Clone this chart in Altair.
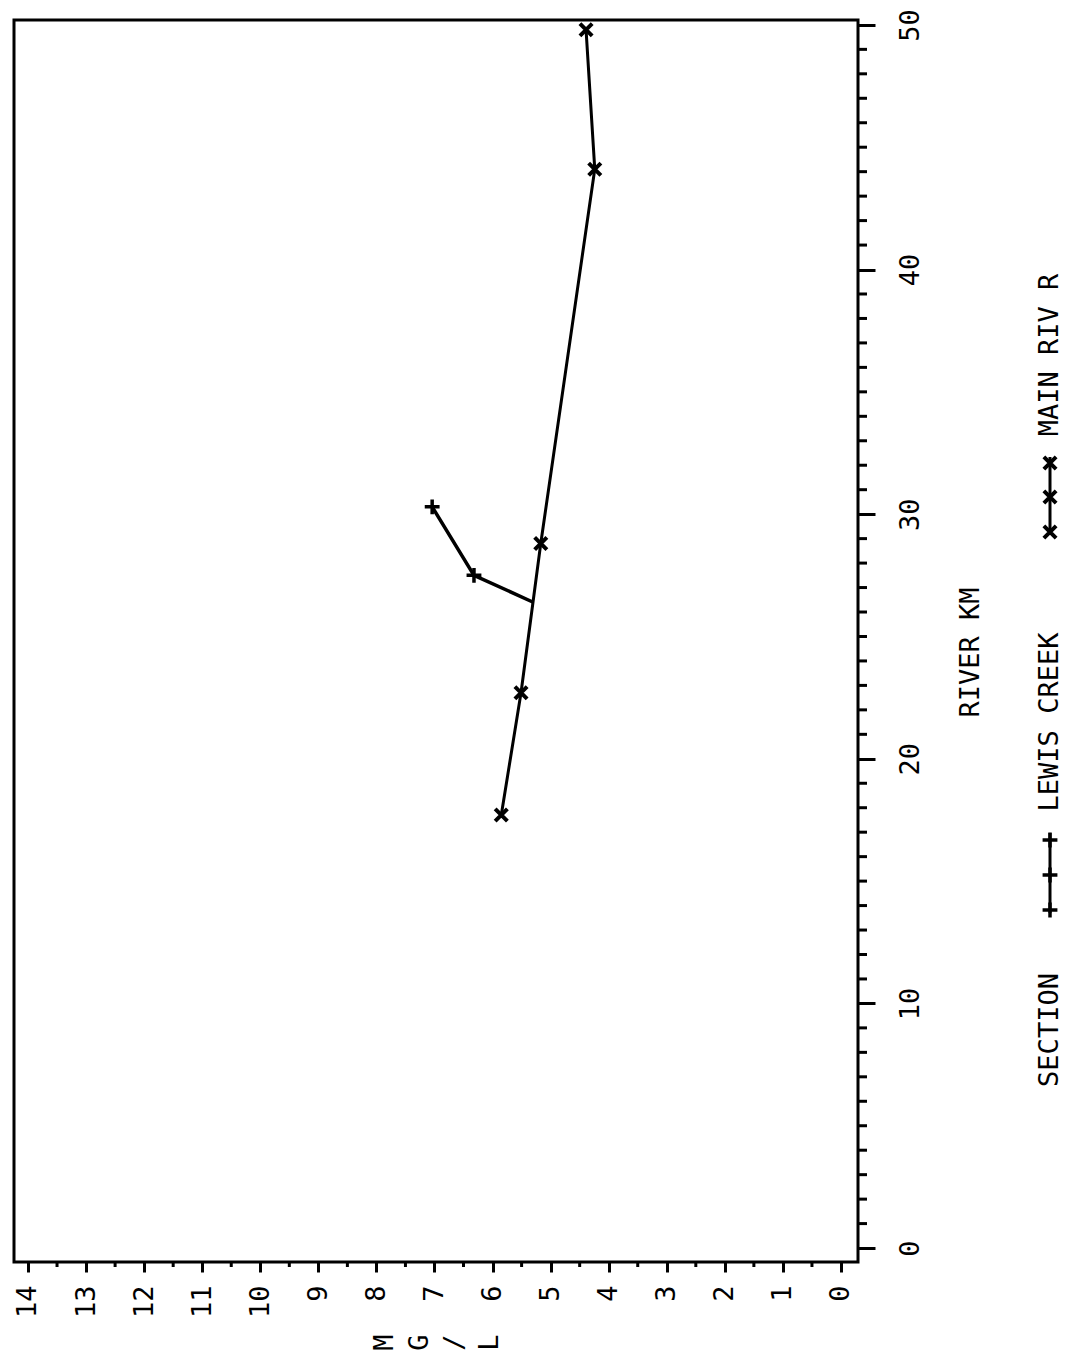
import altair as alt
import pandas as pd

FONT = "DejaVu Sans Mono"
INK = "black"

# Main river: river km and MG/L at each station
main_km = [17.7, 22.7, 28.8, 44.1, 49.8]
main_mgl = [5.85, 5.51, 5.17, 4.24, 4.39]

# Lewis Creek: the last point is the confluence with the main river (no station marker)
creek_km = [30.3, 27.5, 26.4]
creek_mgl = [7.04, 6.32, 5.30]
creek_station = [True, True, False]

# Axis ticks
mgl_ticks = list(range(0, 15))
mgl_minor = [v + 0.5 for v in range(0, 14)]
km_ticks = list(range(0, 51, 10))
km_minor = [v for v in range(0, 51) if v % 10]

legend_labels = ["SECTION", "LEWIS CREEK", "MAIN RIV R"]

# Layout (pixels)
LEFT, TOP, W, H = 14, 20, 844, 1242
PAGE_W, PAGE_H = 1082, 1368
FS = 27
LW = 3

X_PATH = "M-1,-1L1,1M1,-1L-1,1"
PLUS_PATH = "M-1,0L1,0M0,-1L0,1"

x_scale = alt.Scale(domain=[-0.293, 14.241], reverse=True, nice=False, zero=False)
y_scale = alt.Scale(domain=[-0.57, 50.2], nice=False, zero=False)

x_axis = alt.Axis(
    orient="bottom", values=mgl_ticks, domain=False, grid=False,
    tickSize=10, tickWidth=LW, tickColor=INK,
    labelAngle=270, labelAlign="right", labelBaseline="middle", labelPadding=13,
    labelFont=FONT, labelFontSize=FS, labelColor=INK,
    labelFlush=False, labelOverlap=False, labelBound=False,
    title=["M", "G", "/", "L"], titleAngle=270, titleAlign="center",
    titleBaseline="middle", titleFont=FONT, titleFontSize=FS,
    titleFontWeight="normal", titleColor=INK, titleLineHeight=35,
    titleX=W / 2 - 52, titleY=80,
)
y_axis = alt.Axis(
    orient="right", values=km_ticks, domain=False, grid=False,
    tickSize=17, tickWidth=LW, tickColor=INK,
    labelAngle=270, labelAlign="center", labelBaseline="middle", labelPadding=35,
    labelFont=FONT, labelFontSize=FS, labelColor=INK,
    labelFlush=False, labelOverlap=False, labelBound=False,
    title="RIVER KM", titleAngle=270, titleAlign="center", titleBaseline="middle",
    titleFont=FONT, titleFontSize=FS, titleFontWeight="normal", titleColor=INK,
    titleX=112, titleY=632,
)


def X(field="mgl"):
    return alt.X(f"{field}:Q", scale=x_scale, axis=x_axis)


def Y(field="km"):
    return alt.Y(f"{field}:Q", scale=y_scale, axis=y_axis)


main_df = pd.DataFrame({"km": main_km, "mgl": main_mgl})
creek_df = pd.DataFrame({"km": creek_km, "mgl": creek_mgl,
                         "station": creek_station, "seq": range(len(creek_km))})

main_line = alt.Chart(main_df).mark_line(color=INK, strokeWidth=LW).encode(
    x=X(), y=Y(), order="km:Q")
creek_line = alt.Chart(creek_df).mark_line(color=INK, strokeWidth=3.5).encode(
    x=X(), y=Y(), order="seq:Q")

main_pts = alt.Chart(main_df).mark_point(
    shape=X_PATH, filled=False, stroke=INK, strokeWidth=4, size=150, opacity=1
).encode(x=X(), y=Y())
creek_pts = alt.Chart(creek_df).transform_filter("datum.station").mark_point(
    shape=PLUS_PATH, filled=False, stroke=INK, strokeWidth=3.5, size=220, opacity=1
).encode(x=X(), y=Y())

# Minor ticks on both axes
km_minor_ticks = alt.Chart(pd.DataFrame({"km": km_minor})).mark_rule(
    color=INK, strokeWidth=LW).encode(y=Y(), x=alt.value(W), x2=alt.value(W + 9))
mgl_minor_ticks = alt.Chart(pd.DataFrame({"mgl": mgl_minor})).mark_rule(
    color=INK, strokeWidth=LW).encode(x=X(), y=alt.value(H), y2=alt.value(H + 5))

layers = [km_minor_ticks, mgl_minor_ticks, main_line, creek_line, main_pts, creek_pts]

# Rotated legend to the right of the axis title
one = pd.DataFrame({"k": [0]})
leg_x = 1050 - LEFT
text_y = [1030, 722, 355]
for lab, ty in zip(legend_labels, text_y):
    layers.append(
        alt.Chart(pd.DataFrame({"label": [lab]})).mark_text(
            angle=270, font=FONT, fontSize=FS, color=INK,
            align="center", baseline="middle"
        ).encode(x=alt.value(leg_x), y=alt.value(ty - TOP), text="label:N")
    )

swatches = [
    (PLUS_PATH, 220, 3.5, 833, 913, [840, 875, 910]),
    (X_PATH, 150, 4, 457, 533, [463, 497, 532]),
]
for path, size, sw, y0, y1, marks in swatches:
    layers.append(
        alt.Chart(one).mark_rule(color=INK, strokeWidth=LW).encode(
            x=alt.value(leg_x), y=alt.value(y0 - TOP), y2=alt.value(y1 - TOP))
    )
    for my in marks:
        layers.append(
            alt.Chart(one).mark_point(
                shape=path, filled=False, stroke=INK, strokeWidth=sw, size=size, opacity=1
            ).encode(x=alt.value(leg_x), y=alt.value(my - TOP))
        )

chart = alt.layer(*layers).properties(
    width=W, height=H,
    padding={"left": LEFT, "top": TOP, "right": PAGE_W - LEFT - W, "bottom": PAGE_H - TOP - H},
    autosize=alt.AutoSizeParams(type="none"),
    background="white",
).configure_view(stroke=INK, strokeWidth=LW)

chart.save("out.html", embed_options={"renderer": "svg", "actions": False})
